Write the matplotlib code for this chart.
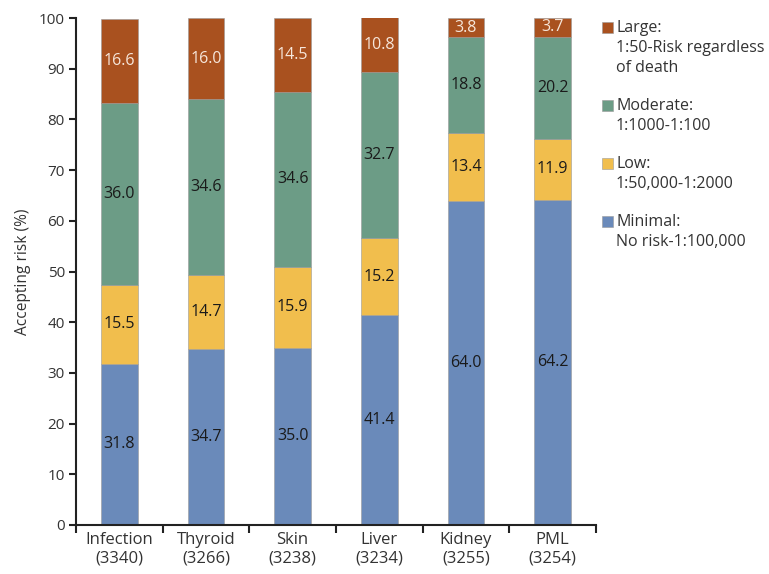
import matplotlib.pyplot as plt
from matplotlib.patches import Rectangle
import numpy as np

plt.rcParams['font.family'] = ['Open Sans', 'DejaVu Sans']

categories = ["Infection\n(3340)", "Thyroid\n(3266)", "Skin\n(3238)",
              "Liver\n(3234)", "Kidney\n(3255)", "PML\n(3254)"]
minimal = [31.8, 34.7, 35.0, 41.4, 64.0, 64.2]
low = [15.5, 14.7, 15.9, 15.2, 13.4, 11.9]
moderate = [36.0, 34.6, 34.6, 32.7, 18.8, 20.2]
large = [16.6, 16.0, 14.5, 10.8, 3.8, 3.7]

series_labels = [["Minimal:", "No risk-1:100,000"],
                 ["Low:", "1:50,000-1:2000"],
                 ["Moderate:", "1:1000-1:100"],
                 ["Large:", "1:50-Risk regardless", "of death"]]
colors = ["#6a8aba", "#f1be4d", "#6c9c86", "#a9511f"]
text_colors = ["#1a1a1a", "#1a1a1a", "#1a1a1a", "#f6e6da"]

W, H = 769, 574
fig = plt.figure(figsize=(W / 100, H / 100), dpi=100)
ax = fig.add_axes([76 / W, 1 - 525 / H, 520 / W, 507 / H])

x = np.arange(len(categories))
bottom = np.zeros(len(categories))
for vals, col, tcol in zip([minimal, low, moderate, large], colors, text_colors):
    ax.bar(x, vals, width=0.42, bottom=bottom, color=col,
           edgecolor="#9a9a9a", linewidth=0.4)
    for xi, b, v in zip(x, bottom, vals):
        ax.text(xi, b + v / 2, f"{v:.1f}", ha='center', va='center',
                fontsize=11.5, color=tcol)
    bottom += np.array(vals)

ax.set_xlim(-0.5, len(categories) - 0.5)
ax.set_ylim(0, 100)
ax.set_yticks(range(0, 101, 10))
ax.set_xticks(np.arange(-0.5, len(categories), 1.0))
ax.set_xticklabels([])
ax.set_xticks(x, minor=True)
ax.set_xticklabels(categories, minor=True, fontsize=12, color="#333333")
for lab in ax.get_xticklabels(minor=True):
    lab.set_linespacing(1.25)
ax.tick_params(axis='x', which='minor', length=0, pad=5)
ax.tick_params(axis='x', which='major', length=6, width=1.5, color="#222222")
ax.tick_params(axis='y', length=5, width=1.5, labelsize=11, labelcolor="#333333",
               color="#222222", pad=3)
for side in ['top', 'right']:
    ax.spines[side].set_visible(False)
for side in ['left', 'bottom']:
    ax.spines[side].set_linewidth(1.5)
    ax.spines[side].set_color("#222222")

ax.set_ylabel("Accepting risk (%)", fontsize=11.2, color="#333333", labelpad=6)

# legend drawn by hand so the swatch sits beside the first line of each entry
baseline = 32
for lines, col in zip(series_labels[::-1], colors[::-1]):
    fig.patches.append(Rectangle((602 / W, 1 - (baseline + 0.5) / H), 11 / W, 10.5 / H,
                                 transform=fig.transFigure, facecolor=col,
                                 edgecolor="#9a9a9a", linewidth=0.4))
    for line in lines:
        fig.text(616 / W, 1 - baseline / H, line, fontsize=11.5, color="#333333",
                 ha='left', va='baseline')
        baseline += 20
    baseline += 18

fig.savefig("out.png", dpi=100)
